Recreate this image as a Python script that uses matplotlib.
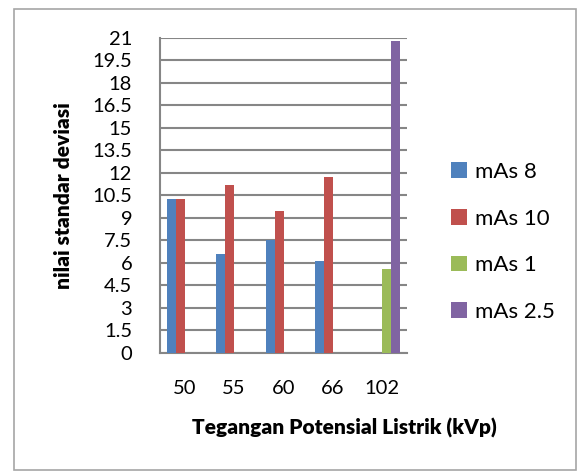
import matplotlib.pyplot as plt
from matplotlib.patches import Rectangle

# data
kategori = ["50", "55", "60", "66", "102"]
mas8 = [10.25, 6.56, 7.51, 6.11, None]
mas10 = [10.25, 11.18, 9.45, 11.73, None]
mas1 = [None, None, None, None, 5.58]
mas25 = [None, None, None, None, 20.78]
seri = [("mAs 8", mas8, "#4f81bd"), ("mAs 10", mas10, "#c0504d"),
        ("mAs 1", mas1, "#9bbb59"), ("mAs 2.5", mas25, "#8064a2")]
yticks = [0, 1.5, 3, 4.5, 6, 7.5, 9, 10.5, 12, 13.5, 15, 16.5, 18, 19.5, 21]

plt.rcParams['font.family'] = ['Lato', 'DejaVu Sans']

fig = plt.figure(figsize=(5.78, 4.71), dpi=100)
ax = fig.add_axes([160/578, 1-352.7/471, 247/578, 315/471])

lebar = 0.182
celah = 0.136
for k, (nama, nilai, warna) in enumerate(seri):
    xs = [i + celah + k*lebar for i, v in enumerate(nilai) if v is not None]
    vs = [v for v in nilai if v is not None]
    ax.bar(xs, vs, width=lebar, align='edge', color=warna, label=nama, zorder=3)

ax.set_xlim(0, 5)
ax.set_ylim(0, 21)
ax.set_yticks(yticks)
ax.set_yticklabels([f"{t:g}" for t in yticks], fontsize=14.5)
ax.set_xticks([i + 0.5 for i in range(5)])
ax.set_xticklabels(kategori, fontsize=14.5)
ax.tick_params(axis='x', length=0, pad=20)
ax.tick_params(axis='y', length=0, pad=20)
ax.grid(axis='y', color='#868686', linewidth=1.5, zorder=0)
for s in ['top', 'right']:
    ax.spines[s].set_visible(False)
ax.spines['left'].set_color('#868686')
ax.spines['left'].set_linewidth(1.5)
ax.spines['bottom'].set_color('#868686')
ax.spines['bottom'].set_linewidth(1.5)

fig.text(63/578, 1-196/471, "nilai standar deviasi", fontsize=15,
         fontweight='heavy', rotation=90, ha='center', va='center')
fig.text(344/578, 1-428/471, "Tegangan Potensial Listrik (kVp)", fontsize=15,
         fontweight='heavy', ha='center', va='center')

leg = ax.legend(loc='center left', bbox_to_anchor=(431/578, 1-242/471),
                bbox_transform=fig.transFigure, frameon=False, fontsize=16,
                handlelength=0.7, handleheight=0.7, handletextpad=0.4,
                labelspacing=1.2)

fig.patches.append(Rectangle((14/578, 1-470/471), 562/578, 461/471,
                             transform=fig.transFigure, fill=False,
                             edgecolor='#a6a6a6', linewidth=1.2))

fig.savefig("out.png", dpi=100)
